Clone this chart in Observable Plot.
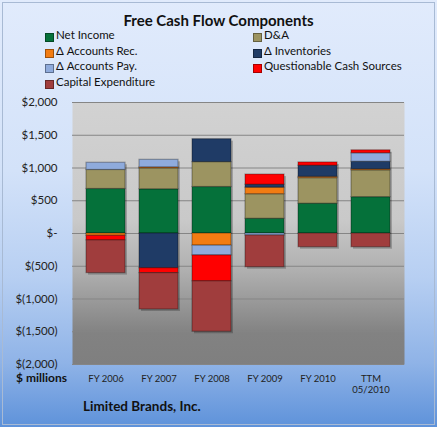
<!DOCTYPE html>
<html>
<head>
<meta charset="utf-8">
<script src="https://cdn.jsdelivr.net/npm/d3@7"></script>
<script src="https://cdn.jsdelivr.net/npm/@observablehq/plot@0.6"></script>
<style>
  html, body { margin: 0; padding: 0; }
  body { width: 437px; height: 427px; overflow: hidden; font-family: Lato, "Open Sans", sans-serif; }
  #wrap { position: relative; width: 437px; height: 427px;
    background: linear-gradient(to bottom, #e1ebfc 0%, #d3e2f9 40%, #b7cff2 65%, #8fb3e7 85%, #5e92da 100%); }
  #border { position: absolute; left: 2px; top: 2px; right: 2px; bottom: 2px; border: 1px solid #a8bad4; pointer-events: none; }
  #title { position: absolute; left: 0; width: 437px; top: 11px; text-align: center; font-weight: bold; font-size: 15px; color: #111; }
  .lg { position: absolute; font-size: 11.5px; color: #111; white-space: nowrap; }
  .sw { position: absolute; width: 7px; height: 7px; border: 1px solid rgba(0,0,0,0.35); }
  #units { position: absolute; left: 16px; top: 370px; font-weight: bold; font-size: 12px; color: #111; }
  #company { position: absolute; left: 83px; top: 398px; font-weight: bold; font-size: 13.5px; color: #111; }
  #chart { position: absolute; left: 0; top: 0; }
</style>
</head>
<body>
<div id="wrap">
  <div id="chart"></div>
  <div id="title">Free Cash Flow Components</div>
  <div id="legend"></div>
  <div id="units">$ millions</div>
  <div id="company">Limited Brands, Inc.</div>
  <div id="border"></div>
</div>
<script>
const years = ["FY 2006", "FY 2007", "FY 2008", "FY 2009", "FY 2010", "TTM\n05/2010"];
const seriesNames = ["Net Income", "D&A", "Δ Accounts Rec.", "Δ Inventories", "Δ Accounts Pay.", "Questionable Cash Sources", "Capital Expenditure"];
const seriesColors = ["#05713a", "#9c9461", "#f27c12", "#1f3b66", "#8fabdc", "#ff0000", "#a03d3d"];

const netIncome    = [680, 675, 710, 225, 455, 555];
const dAndA        = [290, 320, 380, 375, 390, 410];
const accountsRec  = [-35, 15, -185, 100, 20, 15];
const inventories  = [0, -530, 350, 45, 170, 115];
const accountsPay  = [110, 115, -150, -30, 0, 130];
const questionable = [-70, -75, -395, 155, 50, 45];
const capex        = [-500, -555, -770, -485, -210, -210];

const yTicks = [-2000, -1500, -1000, -500, 0, 500, 1000, 1500, 2000];

const seriesValues = [netIncome, dAndA, accountsRec, inventories, accountsPay, questionable, capex];
const data = [];
years.forEach((yr, i) => {
  seriesNames.forEach((s, j) => {
    const v = seriesValues[j][i];
    if (v !== 0) data.push({year: yr, series: s, value: v});
  });
});

const comma = d3.format(",");
const fmtY = v => v === 0 ? "$-" : v < 0 ? `$(${comma(-v)})` : `$${comma(v)}`;

const plot = Plot.plot({
  width: 437,
  height: 427,
  marginTop: 102,
  marginBottom: 63,
  marginLeft: 72,
  marginRight: 33,
  style: {background: "transparent", fontFamily: "Lato, 'Open Sans', sans-serif", color: "#222"},
  x: {domain: years, padding: 0.26, label: null},
  y: {domain: [-2000, 2000], label: null},
  color: {domain: seriesNames, range: seriesColors},
  marks: [
    Plot.frame({fill: "url(#plotbg)", stroke: null}),
    Plot.gridY(yTicks, {stroke: "#858585", strokeOpacity: 1, strokeWidth: 1}),
    Plot.barY(data, {x: "year", y: "value", fill: "#000", fillOpacity: 0.22, dx: 2, dy: 2}),
    Plot.barY(data, {x: "year", y: "value", fill: "series", stroke: "#000", strokeOpacity: 0.3, strokeWidth: 1.2}),
    Plot.axisY(yTicks, {tickFormat: fmtY, tickSize: 0, tickPadding: 15, fontSize: 11.5, fill: "#222"}),
    Plot.axisX({tickSize: 0, tickPadding: 9, fontSize: 9.5, fill: "#222", lineHeight: 1.2})
  ]
});

const svg = d3.select(plot);
const defs = svg.insert("defs", ":first-child");
const g = defs.append("linearGradient").attr("id", "plotbg").attr("x1", 0).attr("y1", 0).attr("x2", 0).attr("y2", 1);
[[0, "#d2d2d2"], [0.45, "#c9c9c9"], [0.65, "#aeaeae"], [0.88, "#828282"], [1, "#7f7f7f"]]
  .forEach(([o, c]) => g.append("stop").attr("offset", o).attr("stop-color", c));

document.getElementById("chart").appendChild(plot);

// Legend (HTML)
const legend = document.getElementById("legend");
const pos = [
  [45, 31], [253, 31],
  [45, 47], [253, 47],
  [45, 62], [253, 62],
  [45, 78]
];
seriesNames.forEach((s, i) => {
  const [x, y] = pos[i];
  const sw = document.createElement("div");
  sw.className = "sw";
  sw.style.left = x + "px";
  sw.style.top = (y + 2) + "px";
  sw.style.background = seriesColors[i];
  legend.appendChild(sw);
  const t = document.createElement("div");
  t.className = "lg";
  t.style.left = (x + 11) + "px";
  t.style.top = (y - 3) + "px";
  t.textContent = s;
  legend.appendChild(t);
});
</script>
</body>
</html>
